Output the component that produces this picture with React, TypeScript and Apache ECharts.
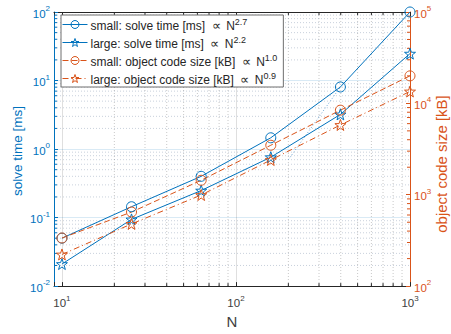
import React, { useEffect, useRef } from 'react';
import * as echarts from 'echarts';

// ---- data ----
const N = [10, 25.1, 63.1, 158.5, 398.1, 1000];
const smallSolve = [0.05, 0.144, 0.4, 1.46, 8.05, 100];
const largeSolve = [0.021, 0.094, 0.248, 0.76, 3.2, 24.7];
const smallCode = [336, 646, 1440, 3480, 8420, 20000];
const largeCode = [222, 479, 993, 2400, 5800, 13500];
const guideN = [200, 398.1];
const guideSolve = [0.7, 8.05];

const seriesNames = [
  'small: solve time [ms]',
  'large: solve time [ms]',
  'small: object code size [kB]',
  'large: object code size [kB]',
];
const exponents = ['2.7', '2.2', '1.0', '0.9'];
const xName = 'N';
const yLeftName = 'solve time [ms]';
const yRightName = 'object code size [kB]';

const minorMult = [2, 3, 4, 5, 6, 7, 8, 9];
const xDecades = [10, 100];
const yLeftDecades = [0.01, 0.1, 1, 10];
const yRightDecades = [100, 1000, 10000];

const BLUE = '#0072BD';
const ORANGE = '#D95319';
const DARK = '#262626';
const FONT = '"Liberation Sans", Arial, Helvetica, sans-serif';
const STAR =
  'path://M0,-10 L2.35,-3.24 L9.51,-3.09 L3.8,1.24 L5.88,8.09 L0,4 L-5.88,8.09 L-3.8,1.24 L-9.51,-3.09 L-2.35,-3.24 Z';

const pairs = (xs: number[], ys: number[]) => xs.map((x, i) => [x, ys[i]]);

const minorOf = (decades: number[]) => {
  const out: number[] = [];
  decades.forEach((d) => minorMult.forEach((m) => out.push(+(d * m).toPrecision(6))));
  return out;
};

const powRich = (color: string) => ({
  b: { fontSize: 11.5, color, fontFamily: FONT, lineHeight: 15, verticalAlign: 'bottom' },
  s: { fontSize: 8, color, fontFamily: FONT, lineHeight: 8, verticalAlign: 'top' },
});

const powFormatter = (v: number) => {
  const e = Math.log10(v);
  const r = Math.round(e);
  if (Math.abs(e - r) > 1e-6) return '';
  return `{b|10}{s|${r}}`;
};

export default function App() {
  const ref = useRef<HTMLDivElement>(null);

  useEffect(() => {
    document.body.style.margin = '0';
    if (!ref.current) return;
    const chart = echarts.init(ref.current, undefined, { renderer: 'svg' });

    const xMinor = minorOf(xDecades);
    const yLMinor = minorOf(yLeftDecades);
    const yRMinor = minorOf(yRightDecades);

    const leftMinorData = [
      ...xMinor.map((v) => [v, 1, 1]),
      ...yLMinor.map((v) => [100, v, 0]),
    ];
    const rightMinorData = yRMinor.map((v) => [100, v, 0]);

    const lineStyleFor = (i: number) => {
      if (i === 0 || i === 1) return { color: BLUE, width: 1, type: 'solid' };
      if (i === 2) return { color: ORANGE, width: 1, type: [6, 3] };
      return { color: ORANGE, width: 1, type: [6, 3, 1, 3] };
    };
    const seriesValues = [smallSolve, largeSolve, smallCode, largeCode];

    const mainSeries = seriesValues.map((vals, i) => ({
      name: seriesNames[i],
      type: 'line',
      xAxisIndex: 0,
      yAxisIndex: i < 2 ? 0 : 1,
      data: pairs(N, vals),
      symbol: i % 2 === 0 ? 'circle' : STAR,
      symbolSize: i % 2 === 0 ? 10 : 11,
      showSymbol: true,
      lineStyle: lineStyleFor(i),
      itemStyle: {
        color: 'rgba(255,255,255,0)',
        borderColor: i < 2 ? BLUE : ORANGE,
        borderWidth: 1,
      },
      z: 5,
    }));

    const option: any = {
      animation: false,
      grid: { left: 54, right: 41, top: 12, bottom: 44 },
      graphic: [
        {
          type: 'text',
          x: 17,
          y: 151,
          rotation: Math.PI / 2,
          silent: true,
          style: {
            text: yLeftName,
            fill: BLUE,
            font: `13.5px ${FONT}`,
            align: 'center',
            verticalAlign: 'middle',
          },
        },
        {
          type: 'text',
          x: 441,
          y: 164,
          rotation: Math.PI / 2,
          silent: true,
          style: {
            text: yRightName,
            fill: ORANGE,
            font: `15px ${FONT}`,
            align: 'center',
            verticalAlign: 'middle',
          },
        },
      ],
      legend: {
        data: seriesNames,
        orient: 'vertical',
        left: 61,
        top: 15,
        padding: [2, 6, 1, 1],
        itemGap: 3,
        itemWidth: 25,
        itemHeight: 10,
        backgroundColor: '#ffffff',
        borderColor: '#6e6e6e',
        borderWidth: 1,
        lineStyle: { width: 1 },
        itemStyle: { borderWidth: 1 },
        formatter: (name: string) => {
          const i = seriesNames.indexOf(name);
          return `{t|${name}}{p| \u221D }{t|N}{s|${exponents[i]}}`;
        },
        textStyle: {
          fontFamily: FONT,
          fontSize: 12,
          color: DARK,
          padding: [0, 0, 0, -2],
          rich: {
            t: { fontSize: 12, color: DARK, fontFamily: FONT, lineHeight: 15, verticalAlign: 'bottom' },
            p: { fontSize: 12.5, color: DARK, fontFamily: FONT, lineHeight: 15, verticalAlign: 'bottom', padding: [0, 2, 0, 3] },
            s: { fontSize: 9, color: DARK, fontFamily: FONT, lineHeight: 8, verticalAlign: 'top' },
          },
        },
      },
      xAxis: [
        {
          type: 'log',
          logBase: 10,
          min: 9,
          max: 1000,
          position: 'bottom',
          name: xName,
          nameLocation: 'middle',
          nameGap: 22,
          nameTextStyle: { color: '#404040', fontSize: 15, fontFamily: FONT, verticalAlign: 'top' },
          axisLine: { show: true, lineStyle: { color: DARK, width: 1 } },
          axisTick: { show: true, inside: true, length: 4, lineStyle: { color: DARK } },
          axisLabel: {
            formatter: powFormatter,
            margin: 8,
            color: DARK,
            rich: powRich('#404040'),
          },
          splitLine: { show: true, lineStyle: { color: 'rgba(38,38,38,0.15)', width: 1 } },
        },
        {
          type: 'log',
          logBase: 10,
          min: 9,
          max: 1000,
          position: 'top',
          axisLine: { show: true, lineStyle: { color: DARK, width: 1 } },
          axisTick: { show: true, inside: true, length: 4, lineStyle: { color: DARK } },
          axisLabel: { show: false },
          splitLine: { show: false },
        },
      ],
      yAxis: [
        {
          type: 'log',
          logBase: 10,
          min: 0.01,
          max: 100,
          position: 'left',
          axisLine: { show: true, lineStyle: { color: BLUE, width: 1 } },
          axisTick: { show: true, inside: true, length: 4, lineStyle: { color: BLUE } },
          axisLabel: { formatter: powFormatter, margin: 4, color: BLUE, rich: powRich(BLUE) },
          splitLine: { show: true, lineStyle: { color: 'rgba(0,114,189,0.15)', width: 1 } },
        },
        {
          type: 'log',
          logBase: 10,
          min: 100,
          max: 100000,
          position: 'right',
          axisLine: { show: true, lineStyle: { color: ORANGE, width: 1 } },
          axisTick: { show: true, inside: true, length: 4, lineStyle: { color: ORANGE } },
          axisLabel: { formatter: powFormatter, margin: 4, color: ORANGE, rich: powRich(ORANGE) },
          splitLine: { show: false },
        },
      ],
      series: [
        {
          type: 'custom',
          name: 'minorLeft',
          xAxisIndex: 0,
          yAxisIndex: 0,
          silent: true,
          z: 1,
          dimensions: ['x', 'y', 'k'],
          encode: { x: 0, y: 1 },
          data: leftMinorData,
          renderItem: (params: any, api: any) => {
            const cs = params.coordSys;
            const k = api.value(2);
            if (k === 0) {
              const p = api.coord([100, api.value(1)]);
              return {
                type: 'group',
                children: [
                  {
                    type: 'line',
                    shape: { x1: cs.x, y1: p[1], x2: cs.x + cs.width, y2: p[1] },
                    style: { stroke: 'rgba(60,90,130,0.28)', lineWidth: 1, lineDash: [1, 2] },
                  },
                  {
                    type: 'line',
                    shape: { x1: cs.x, y1: p[1], x2: cs.x + 3, y2: p[1] },
                    style: { stroke: BLUE, lineWidth: 1 },
                  },
                ],
              };
            }
            const p = api.coord([api.value(0), 1]);
            return {
              type: 'group',
              children: [
                {
                  type: 'line',
                  shape: { x1: p[0], y1: cs.y, x2: p[0], y2: cs.y + cs.height },
                  style: { stroke: 'rgba(38,38,38,0.25)', lineWidth: 1, lineDash: [1, 2] },
                },
                {
                  type: 'line',
                  shape: { x1: p[0], y1: cs.y + cs.height, x2: p[0], y2: cs.y + cs.height - 3 },
                  style: { stroke: DARK, lineWidth: 1 },
                },
                {
                  type: 'line',
                  shape: { x1: p[0], y1: cs.y, x2: p[0], y2: cs.y + 3 },
                  style: { stroke: DARK, lineWidth: 1 },
                },
              ],
            };
          },
        },
        {
          type: 'custom',
          name: 'minorRight',
          xAxisIndex: 0,
          yAxisIndex: 1,
          silent: true,
          z: 1,
          dimensions: ['x', 'y', 'k'],
          encode: { x: 0, y: 1 },
          data: rightMinorData,
          renderItem: (params: any, api: any) => {
            const cs = params.coordSys;
            const p = api.coord([100, api.value(1)]);
            const xr = cs.x + cs.width;
            return {
              type: 'line',
              shape: { x1: xr - 3, y1: p[1], x2: xr, y2: p[1] },
              style: { stroke: ORANGE, lineWidth: 1 },
            };
          },
        },
        {
          type: 'line',
          name: 'guide',
          xAxisIndex: 0,
          yAxisIndex: 0,
          data: pairs(guideN, guideSolve),
          showSymbol: false,
          symbol: 'none',
          silent: true,
          lineStyle: { color: '#6fa8d6', width: 1, type: [1, 2] },
          z: 3,
        },
        ...mainSeries,
      ],
    };

    chart.setOption(option);
    return () => chart.dispose();
  }, []);

  return <div ref={ref} style={{ width: 451, height: 334 }} />;
}
